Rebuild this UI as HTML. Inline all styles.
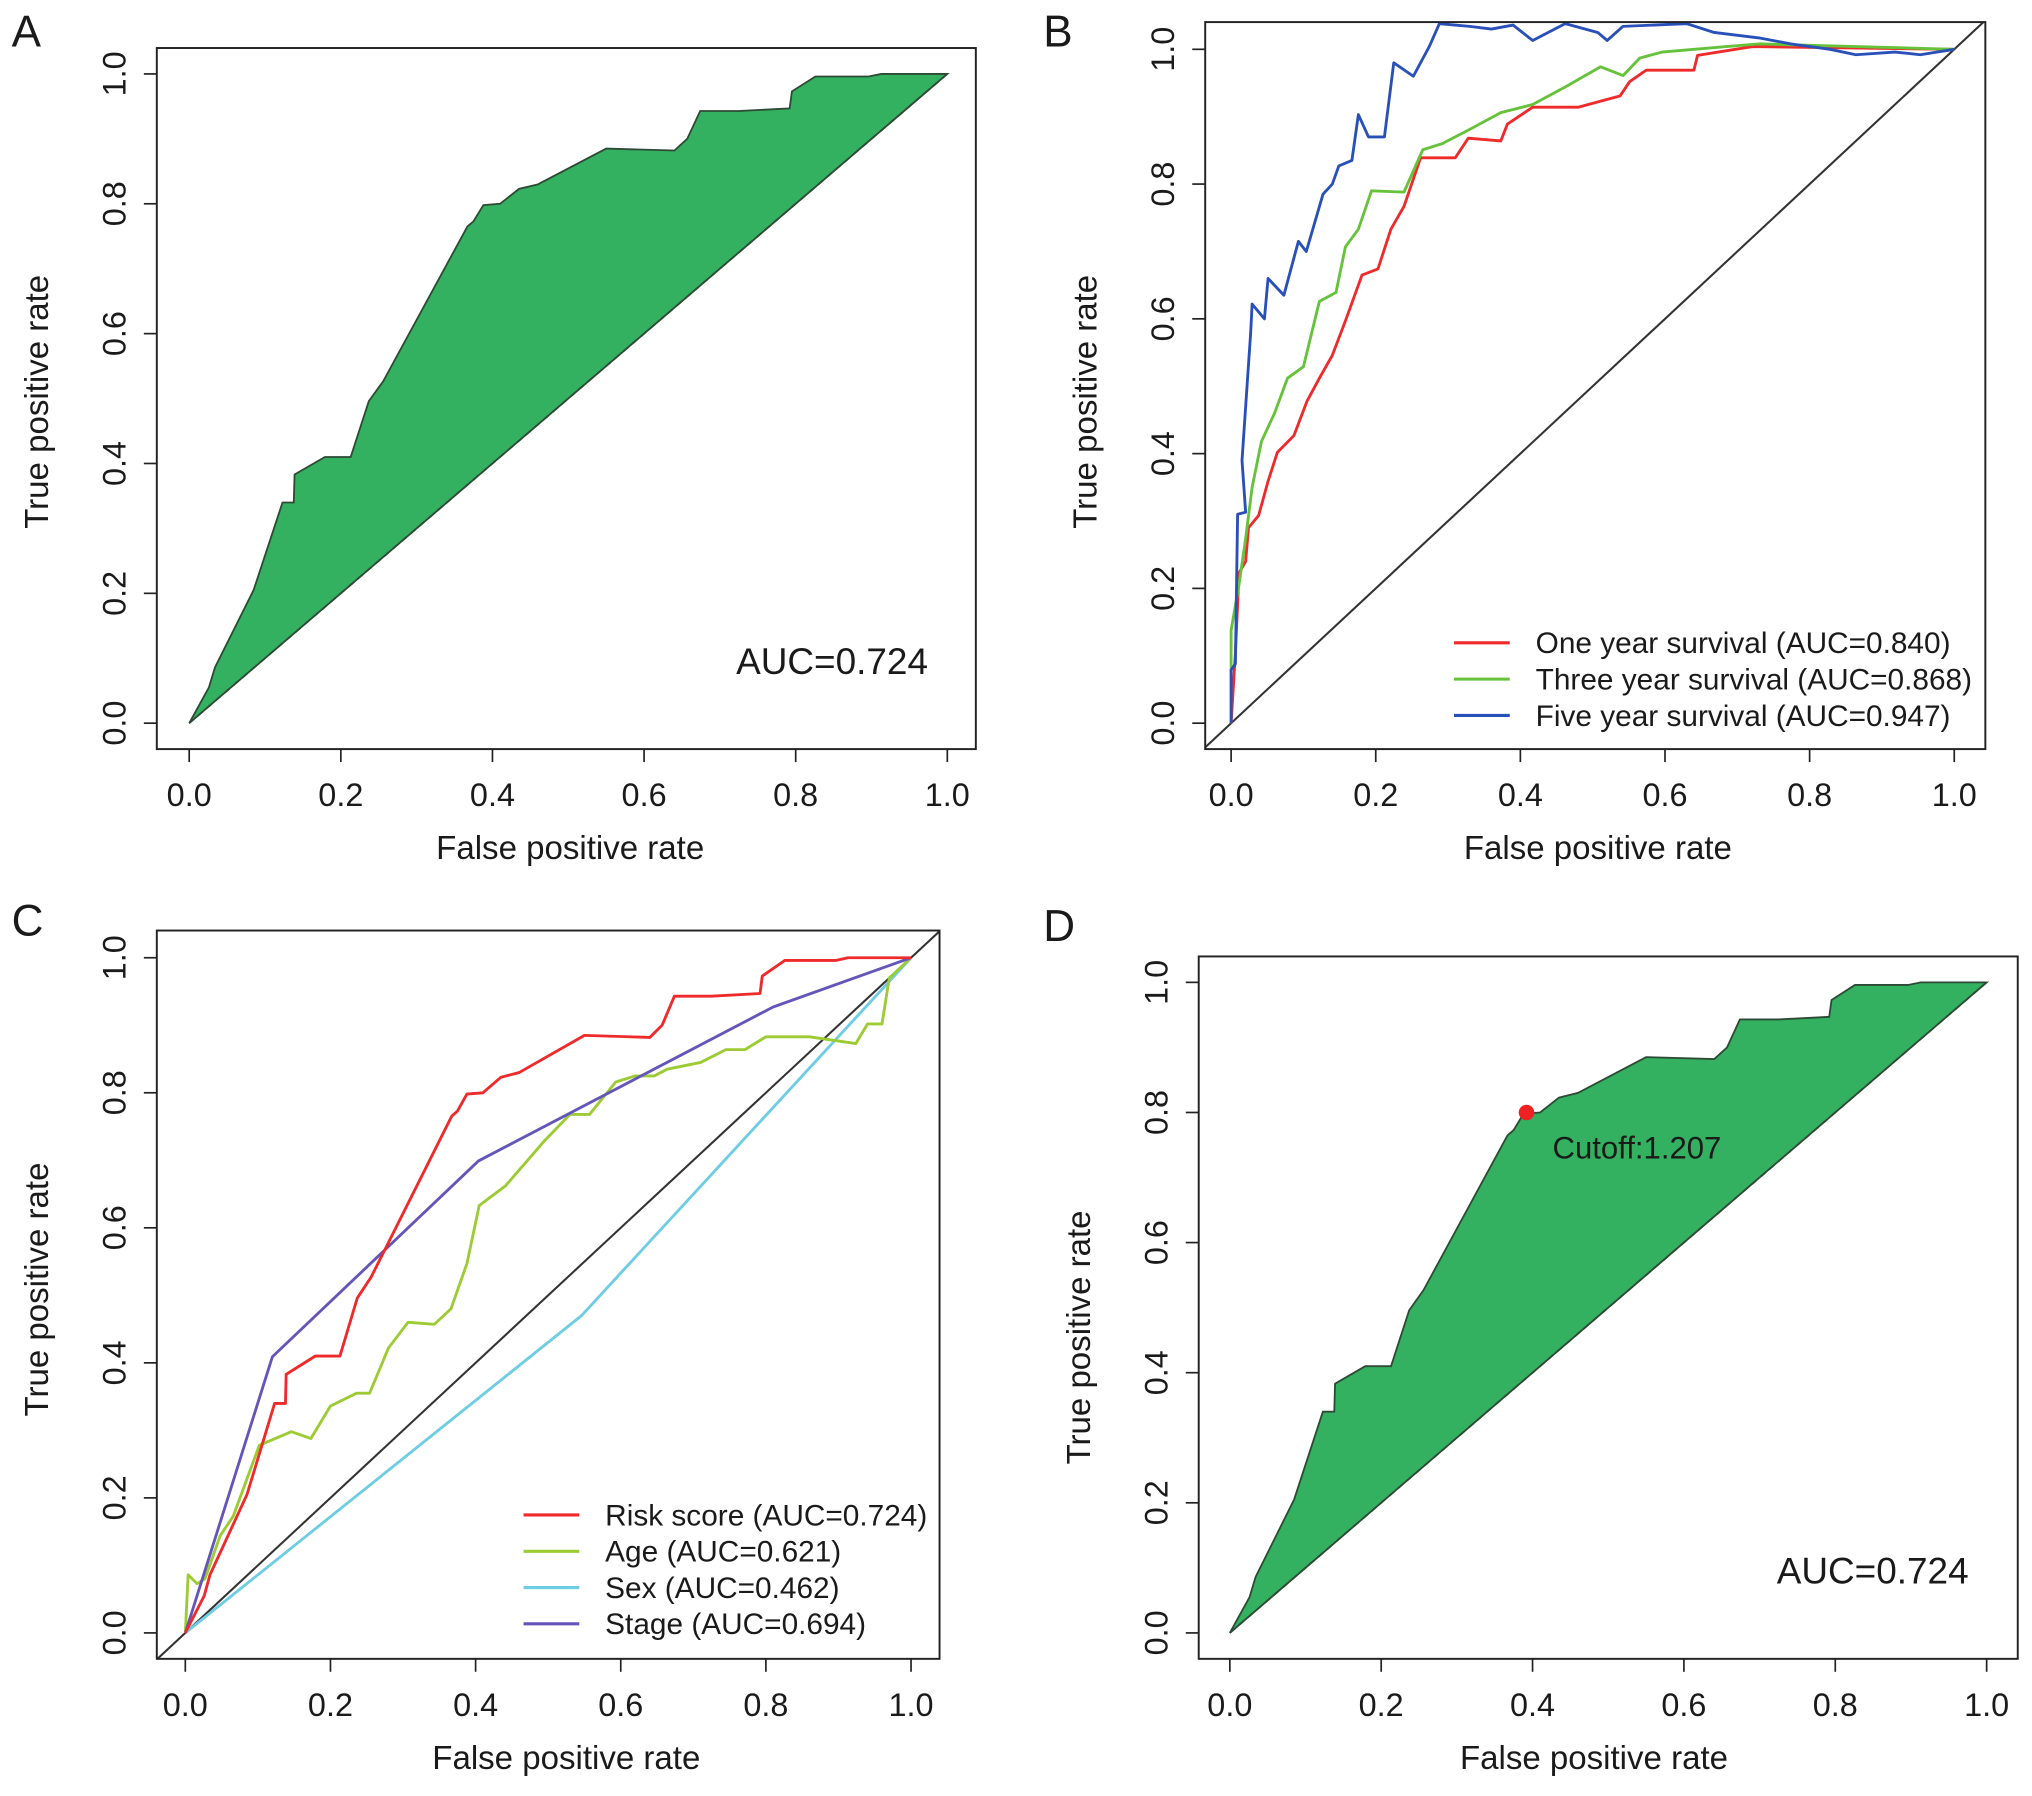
<!DOCTYPE html>
<html><head><meta charset="utf-8"><style>
html,body{margin:0;padding:0;background:#fff}
svg{display:block}
text{font-family:"Liberation Sans",Arial,sans-serif;fill:#1a1a1a}
</style></head><body>
<svg id="fig" width="2032" height="1796" viewBox="0 0 1568 1385.8" xmlns="http://www.w3.org/2000/svg"></svg>
<script>
// ---------- data ----------
const tickLabels = ["0.0","0.2","0.4","0.6","0.8","1.0"];
const tickValues = [0,0.2,0.4,0.6,0.8,1.0];
const riskFpr = [0,0.026,0.034,0.085,0.123,0.138,0.139,0.179,0.213,0.237,0.256,0.367,0.375,0.388,0.41,0.435,0.46,0.55,0.64,0.657,0.674,0.725,0.792,0.795,0.826,0.896,0.913,1];
const riskTpr = [0,0.055,0.086,0.205,0.34,0.34,0.383,0.41,0.41,0.496,0.527,0.765,0.773,0.798,0.8,0.823,0.83,0.885,0.882,0.9,0.943,0.943,0.947,0.973,0.996,0.996,1,1];
const blueFpr = [0,0,0.006,0.009,0.02,0.015,0.027,0.029,0.046,0.051,0.073,0.093,0.104,0.127,0.14,0.149,0.167,0.176,0.19,0.212,0.225,0.252,0.274,0.288,0.33,0.36,0.39,0.417,0.462,0.507,0.52,0.542,0.63,0.668,0.73,0.774,0.828,0.864,0.918,0.953,1];
const blueTpr = [0,0.079,0.088,0.31,0.313,0.39,0.58,0.622,0.6,0.66,0.635,0.715,0.70,0.785,0.8,0.827,0.835,0.903,0.87,0.87,0.98,0.96,1.004,1.038,1.034,1.03,1.036,1.013,1.038,1.025,1.013,1.034,1.038,1.025,1.017,1.008,1.0,0.992,0.996,0.992,1];
const greenFpr = [0,0,0.011,0.02,0.029,0.042,0.06,0.078,0.1,0.122,0.145,0.158,0.176,0.194,0.239,0.265,0.292,0.328,0.373,0.417,0.462,0.511,0.542,0.565,0.596,0.685,0.73,1];
const greenTpr = [0,0.138,0.206,0.274,0.35,0.418,0.46,0.512,0.529,0.626,0.639,0.707,0.733,0.79,0.788,0.851,0.86,0.88,0.906,0.918,0.944,0.974,0.961,0.987,0.996,1.004,1.008,1];
const redFpr = [0,0.006,0.011,0.02,0.024,0.038,0.051,0.064,0.087,0.105,0.122,0.14,0.158,0.181,0.203,0.221,0.239,0.262,0.31,0.328,0.373,0.382,0.417,0.48,0.538,0.551,0.574,0.64,0.645,0.721,1];
const redTpr = [0,0.104,0.223,0.24,0.29,0.308,0.359,0.402,0.427,0.478,0.512,0.546,0.597,0.665,0.674,0.733,0.767,0.839,0.839,0.868,0.864,0.889,0.914,0.914,0.931,0.952,0.969,0.969,0.991,1.004,1];
const ageFpr = [0,0.004,0.016,0.027,0.048,0.066,0.102,0.146,0.173,0.2,0.236,0.254,0.28,0.307,0.343,0.366,0.388,0.405,0.441,0.495,0.53,0.557,0.593,0.62,0.646,0.664,0.71,0.745,0.771,0.8,0.86,0.924,0.94,0.96,0.97,1];
const ageTpr = [0,0.086,0.073,0.08,0.144,0.173,0.278,0.298,0.288,0.336,0.355,0.355,0.422,0.46,0.457,0.48,0.547,0.633,0.662,0.729,0.768,0.768,0.816,0.825,0.825,0.835,0.845,0.864,0.864,0.883,0.883,0.873,0.902,0.902,0.97,1];
const sexFpr = [0,0.546,1];
const sexTpr = [0,0.47,1];
const stageFpr = [0,0.12,0.404,0.81,1];
const stageTpr = [0,0.409,0.699,0.927,1];
const cutoffFpr = [0.392];
const cutoffTpr = [0.80];
const legendB = ["One year survival (AUC=0.840)","Three year survival (AUC=0.868)","Five year survival (AUC=0.947)"];
const legendC = ["Risk score (AUC=0.724)","Age (AUC=0.621)","Sex (AUC=0.462)","Stage (AUC=0.694)"];

// ---------- helpers ----------
const NS="http://www.w3.org/2000/svg";
const svg=document.getElementById('fig');
function mk(tag,attrs,parent){const e=document.createElementNS(NS,tag);for(const k in attrs)e.setAttribute(k,attrs[k]);(parent||svg).appendChild(e);return e;}
function txt(s,attrs,parent){const e=mk('text',attrs,parent);e.textContent=s;return e;}

function panel(cfg){
  const g=mk('g',{});
  
  
  const sx=v=>cfg.x0+v*(cfg.x1-cfg.x0);
  const sy=v=>cfg.y0+v*(cfg.y1-cfg.y0);
  cfg.sx=sx;cfg.sy=sy;cfg.g=g;
  const cid='clip'+cfg.letter;
  const cp=mk('clipPath',{id:cid},g);
  mk('rect',{x:cfg.bx0,y:cfg.by0,width:cfg.bx1-cfg.bx0,height:cfg.by1-cfg.by0},cp);
  cfg.plot=mk('g',{'clip-path':'url(#'+cid+')'},g);
  
  
  const xa=mk('g',{},g);
  
  
  const ya=mk('g',{},g);
  
  
  tickValues.forEach((v,i)=>{
    mk('line',{x1:sx(v),x2:sx(v),y1:cfg.by1,y2:cfg.by1+10,stroke:'#222','stroke-width':1.3},xa);
    const t=txt(tickLabels[i],{x:sx(v),y:cfg.by1+44,'font-size':25,'text-anchor':'middle'},xa);
    
    
    mk('line',{x1:cfg.bx0,x2:cfg.bx0-10,y1:sy(v),y2:sy(v),stroke:'#222','stroke-width':1.3},ya);
    const yt=txt(tickLabels[i],{x:0,y:0,'font-size':25,'text-anchor':'middle',transform:`translate(${cfg.bx0-24},${sy(v)}) rotate(-90)`},ya);
    
    
  });
  const xt=txt('False positive rate',{x:cfg.xtc,y:cfg.by1+85,'font-size':25.5,'text-anchor':'middle'},g);
  
  
  const yt=txt('True positive rate',{x:0,y:0,'font-size':25.5,'text-anchor':'middle',transform:`translate(${cfg.bx0-84},${cfg.ytc}) rotate(-90)`},g);
  
  
  const lt=txt(cfg.letter,{x:cfg.lx,y:cfg.ly,'font-size':34},g);
  
  
  return cfg;
}
function boxOf(cfg){const r=mk('rect',{x:cfg.bx0,y:cfg.by0,width:cfg.bx1-cfg.bx0,height:cfg.by1-cfg.by0,fill:'none',stroke:'#222','stroke-width':1.5},cfg.g);}
function pts(cfg,xs,ys){return xs.map((x,i)=>cfg.sx(x).toFixed(1)+','+cfg.sy(ys[i]).toFixed(1)).join(' ');}
function line(cfg,xs,ys,color,name,w){const p=mk('polyline',{points:pts(cfg,xs,ys),fill:'none',stroke:color,'stroke-width':w||2.2,'stroke-linejoin':'round'},cfg.plot);return p;}
function fillRoc(cfg,name){
  const poly=mk('polygon',{points:pts(cfg,riskFpr,riskTpr),fill:'#33b060',stroke:'#2d4a35','stroke-width':1.4},cfg.plot);
  
  
  const d=mk('line',{x1:cfg.sx(0),y1:cfg.sy(0),x2:cfg.sx(1),y2:cfg.sy(1),stroke:'#2d4a35','stroke-width':1.4,'stroke-dasharray':'5,4'},cfg.plot);
  
  
}
function diag(cfg){const d=mk('line',{x1:cfg.bx0,y1:cfg.sy(0)+(cfg.bx0-cfg.sx(0))*(cfg.y1-cfg.y0)/(cfg.x1-cfg.x0),x2:cfg.bx1,y2:cfg.sy(0)+(cfg.bx1-cfg.sx(0))*(cfg.y1-cfg.y0)/(cfg.x1-cfg.x0),stroke:'#333','stroke-width':1.6},cfg.plot);}
function legend(cfg,labels,colors,lx,ly,dy){
  const lg=mk('g',{},cfg.g);
  
  
  labels.forEach((s,i)=>{
    const e=mk('g',{},lg);
    
    
    mk('line',{x1:lx,x2:lx+43,y1:ly+i*dy,y2:ly+i*dy,stroke:colors[i],'stroke-width':2.4},e);
    txt(s,{x:lx+63,y:ly+i*dy+8,'font-size':23},e);
  });
}

// ---------- Panel A ----------
const A=panel({name:'panel-a',letter:'A',lx:9,ly:36,bx0:121,bx1:753,by0:37,by1:578,x0:146,x1:731,y0:558,y1:57,xtc:440,ytc:310});
fillRoc(A,'roc-area-risk-score');
boxOf(A);
let t=txt('AUC=0.724',{x:568,y:520,'font-size':28.5},A.g);



// ---------- Panel B ----------
const B=panel({name:'panel-b',letter:'B',lx:805,ly:36,bx0:930,bx1:1532,by0:17,by1:578,x0:950,x1:1508,y0:558,y1:38,xtc:1233,ytc:310});
diag(B);
line(B,redFpr,redTpr,'#ee2a2a','one-year-curve');
line(B,greenFpr,greenTpr,'#66c23a','three-year-curve');
line(B,blueFpr,blueTpr,'#2850b8','five-year-curve');
boxOf(B);
legend(B,legendB,['#ee2a2a','#66c23a','#2850b8'],1122,496,28);

// ---------- Panel C ----------
const C=panel({name:'panel-c',letter:'C',lx:9,ly:722,bx0:121,bx1:725,by0:718,by1:1280,x0:143,x1:703,y0:1260,y1:739,xtc:437,ytc:995});
diag(C);
line(C,sexFpr,sexTpr,'#6ecde3','sex-curve');
line(C,ageFpr,ageTpr,'#9ccb33','age-curve');
line(C,stageFpr,stageTpr,'#6356b8','stage-curve');
line(C,riskFpr,riskTpr,'#ee2a2a','risk-score-curve');
boxOf(C);
legend(C,legendC,['#ee2a2a','#9ccb33','#6ecde3','#6356b8'],404,1169,28);

// ---------- Panel D ----------
const D=panel({name:'panel-d',letter:'D',lx:805,ly:726,bx0:925,bx1:1557,by0:738,by1:1280,x0:949,x1:1533,y0:1260,y1:758,xtc:1230,ytc:1032});
fillRoc(D,'roc-area-cutoff');
boxOf(D);
cutoffFpr.forEach((f,i)=>{
  const c=mk('circle',{cx:D.sx(f),cy:D.sy(cutoffTpr[i]),r:6,fill:'#ee2222'},D.g);
  
  
});
t=txt('Cutoff:1.207',{x:1198,y:894,'font-size':24},D.g);


t=txt('AUC=0.724',{x:1371,y:1222,'font-size':28.5},D.g);


</script>
</body></html>
